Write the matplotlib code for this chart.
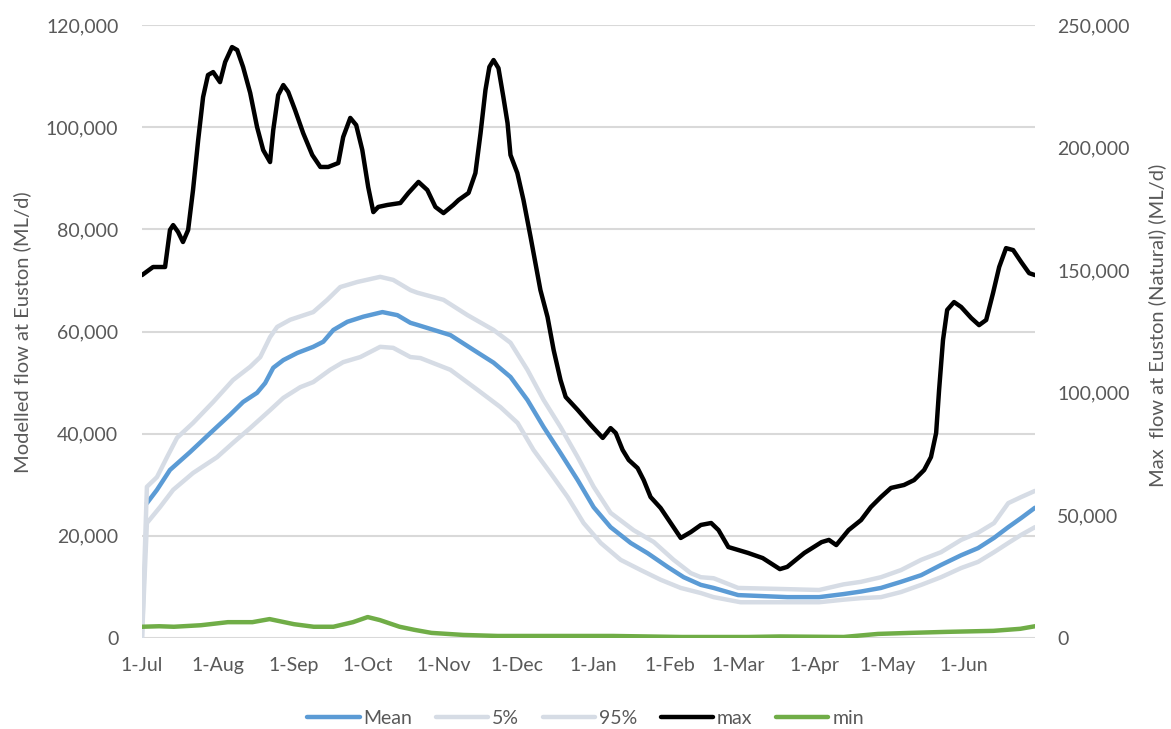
import matplotlib.pyplot as plt
import numpy as np

plt.rcParams['font.family'] = ['Lato', 'DejaVu Sans']

# day of water year (0 = 1 Jul) and flow (ML/d)
month_days = [0, 31, 62, 92, 123, 153, 184, 215, 243, 274, 304, 335]
month_labels = ['1-Jul', '1-Aug', '1-Sep', '1-Oct', '1-Nov', '1-Dec',
                '1-Jan', '1-Feb', '1-Mar', '1-Apr', '1-May', '1-Jun']

mean_days = [2, 6.1, 11.4, 19.6, 27.8, 35.9, 41.2, 46.9, 50.2, 53.5, 57.6, 63.3,
             69.8, 73.9, 78, 83.7, 90.2, 98, 104.1, 109.4, 112.2, 125.7, 135.1,
             143.3, 150.2, 157.1, 163.7, 170.6, 177.6, 184.1, 191, 199.2, 206.1,
             214.3, 220.8, 227.8, 233, 243, 253, 263, 276, 286, 293.1, 301.2,
             309.4, 317.6, 325.7, 333.9, 340.8, 347.3, 353.1, 358.4, 364]
mean_flow = [26400, 29000, 32900, 36400, 40100, 43700, 46200, 48000, 49900,
             52900, 54400, 55800, 57000, 58000, 60300, 61900, 62900, 63800,
             63200, 61700, 61300, 59300, 56400, 53900, 51100, 46600, 41300,
             36200, 30900, 25600, 21700, 18600, 16600, 13900, 11900, 10400,
             9800, 8400, 8200, 8000, 8000, 8600, 9100, 9800, 11000, 12300,
             14300, 16200, 17600, 19600, 21700, 23500, 25500]

p95_days = [0, 2, 6.1, 10.2, 14.3, 20.8, 29, 37.1, 44.1, 48.2, 52.2, 55.1, 60.4,
            69.8, 75.5, 80.8, 87.8, 97.1, 102.4, 109.4, 112.2, 122.9, 132.7,
            143.3, 150.2, 157.1, 163.7, 170.6, 177.6, 184.1, 191, 200.4, 208.6,
            216.7, 223.7, 227.8, 233, 243, 260, 276, 286, 293.1, 301.2, 309.4,
            317.6, 325.7, 333.9, 340.8, 347.3, 353.1, 358.4, 364]
p95_flow = [0, 29600, 31500, 35400, 39200, 42100, 46200, 50500, 53100, 55000,
            58900, 60900, 62300, 63800, 66200, 68700, 69700, 70700, 70100,
            68100, 67600, 66200, 63200, 60300, 57800, 52500, 46600, 41300,
            35400, 29600, 24500, 21100, 18800, 15300, 12700, 11900, 11700,
            9800, 9600, 9400, 10500, 11000, 11900, 13300, 15300, 16800, 19200,
            20600, 22500, 26400, 27600, 28800]

p5_days = [0, 2, 7.3, 12.7, 20.8, 30.6, 37.1, 44.1, 52.2, 57.6, 64.5, 69.8,
           76.7, 82, 89, 97.1, 102.4, 109.4, 113.5, 125.7, 136.7, 146.1, 153.1,
           159.6, 166.5, 173.5, 180, 187, 195.1, 203.3, 211.4, 219.6, 227.8,
           233, 244, 260, 276, 286, 293.1, 301.2, 309.4, 317.6, 325.7, 333.9,
           340.8, 347.3, 353.1, 358.4, 364]
p5_flow = [0, 22500, 25600, 29000, 32300, 35400, 38200, 41100, 44600, 47000,
           49100, 50100, 52500, 54000, 55000, 57000, 56800, 55000, 54800,
           52500, 48600, 45200, 42100, 36800, 32300, 27600, 22500, 18600,
           15300, 13300, 11400, 9800, 8800, 8000, 7000, 7000, 7000, 7500,
           7800, 8000, 9000, 10400, 11900, 13700, 14900, 16800, 18600, 20200,
           21700]

max_days = [0, 4.5, 9.4, 11.4, 12.7, 14.7, 16.7, 18.8, 20.8, 22.9, 24.9, 26.9,
            29, 31.8, 33.9, 36.7, 38.8, 41.2, 44.1, 46.9, 49.4, 52.2, 53.5,
            55.5, 57.6, 59.6, 62.4, 65.7, 69.4, 72.7, 75.9, 80, 82, 84.9, 87.3,
            89.8, 92.2, 94.3, 96.3, 100, 105.3, 108.6, 112.7, 116.3, 119.6,
            122.9, 126.9, 129, 133.1, 135.9, 138, 140, 141.6, 143.3, 145.3,
            147.3, 149, 150.2, 153, 155.5, 158.4, 162.4, 165.3, 167.8, 170.6,
            172.7, 177.6, 182.9, 187.8, 191, 193.1, 195.9, 198.4, 202, 204.5,
            207.3, 211.4, 215.5, 219.6, 223.7, 227.8, 232, 235, 239, 247, 253,
            260, 263, 270, 277, 280, 283, 288, 293.1, 297.1, 301.2, 305.3,
            310.6, 314.7, 318.8, 321.6, 323.7, 324.9, 326.5, 328.2, 331, 333.9,
            338, 341.2, 344.1, 346.9, 349.4, 352.2, 355.1, 358.4, 361.6, 364]
max_flow = [148000, 151300, 151300, 166400, 168400, 165600, 161500, 166400,
            182700, 203100, 220600, 229600, 230800, 226700, 234900, 241000,
            239800, 232900, 222300, 208400, 199000, 194100, 207200, 221400,
            225500, 222700, 215300, 205900, 197000, 192100, 192100, 193700,
            204300, 212100, 209200, 199000, 183900, 173700, 175800, 176600,
            177400, 181500, 186000, 182700, 175800, 173300, 176600, 178600,
            181500, 189600, 205900, 223500, 232900, 235700, 232400, 220600,
            210000, 197000, 189600, 178600, 163500, 141900, 130900, 117400,
            105200, 98300, 93000, 86900, 81600, 85600, 83600, 76700, 72600,
            69300, 64400, 57500, 53000, 46900, 40800, 43200, 46100, 46900,
            44000, 37100, 34700, 32600, 28100, 29000, 34700, 39100, 40000,
            37900, 44000, 48100, 53400, 57500, 61200, 62400, 64400, 68500,
            73800, 83600, 101100, 121500, 133800, 137000, 135000, 130500,
            127600, 129700, 140700, 151300, 159000, 158200, 153300, 148800,
            148000]

min_days = [0, 7, 13, 24, 35, 45, 52, 62, 70, 78, 86, 92, 97, 105, 111, 118,
            131, 145, 165, 192, 220, 247, 260, 286, 300, 313, 328, 347, 358, 364]
min_flow = [2200, 2300, 2200, 2500, 3100, 3100, 3700, 2700, 2200, 2200, 3100,
            4100, 3500, 2200, 1600, 1000, 600, 400, 400, 400, 200, 200, 300,
            200, 800, 1000, 1200, 1400, 1800, 2300]

grey_text = '#595959'
grid_col = '#D9D9D9'

fig = plt.figure(figsize=(11.71, 7.29), dpi=100)
ax = fig.add_axes([142 / 1171, 1 - 638 / 729, (1035 - 142) / 1171, (638 - 25) / 729])
ax2 = ax.twinx()

lw = 3.2
style = dict(lw=lw, solid_joinstyle='round', solid_capstyle='round')
l_mean, = ax.plot(mean_days, mean_flow, color='#5B9BD5', label='Mean', **style)
l_p5, = ax.plot(p5_days, p5_flow, color='#D6DCE5', label='5%', **style)
l_p95, = ax.plot(p95_days, p95_flow, color='#D6DCE5', label='95%', **style)
l_min, = ax.plot(min_days, min_flow, color='#70AD47', label='min', **style)
l_max, = ax2.plot(max_days, max_flow, color='black', label='max', **style)

ax.set_xlim(0, 364)
ax.set_ylim(0, 120000)
ax2.set_ylim(0, 250000)
ax.set_yticks(np.arange(0, 120001, 20000))
ax2.set_yticks(np.arange(0, 250001, 50000))
ax.set_xticks(month_days)
ax.set_xticklabels(month_labels)

fmt = lambda v, p: f'{int(v):,}'
ax.yaxis.set_major_formatter(plt.FuncFormatter(fmt))
ax2.yaxis.set_major_formatter(plt.FuncFormatter(fmt))

ax.grid(axis='y', color=grid_col, lw=1.5)
ax.set_axisbelow(True)
for a in (ax, ax2):
    for s in a.spines.values():
        s.set_visible(False)
    a.tick_params(length=0, labelsize=14, labelcolor=grey_text)
ax.tick_params(axis='y', pad=17)
ax.tick_params(axis='x', pad=14)
ax2.tick_params(axis='y', pad=16)

fig.text(22 / 1171, 1 - 332 / 729, 'Modelled flow at Euston (ML/d)', rotation=90,
         ha='center', va='center', fontsize=14.5, color=grey_text)
fig.text(1157 / 1171, 1 - 325 / 729, 'Max  flow at Euston (Natural) (ML/d)',
         rotation=90, ha='center', va='center', fontsize=14.5, color=grey_text)

leg = fig.legend([l_mean, l_p5, l_p95, l_max, l_min],
                 ['Mean', '5%', '95%', 'max', 'min'],
                 loc='center', bbox_to_anchor=(0.5, 1 - 718 / 729), ncol=5,
                 frameon=False, fontsize=14, handlelength=2.7,
                 handletextpad=0.2, columnspacing=1.2)
for t in leg.get_texts():
    t.set_color(grey_text)

plt.savefig('out.png', dpi=100)
